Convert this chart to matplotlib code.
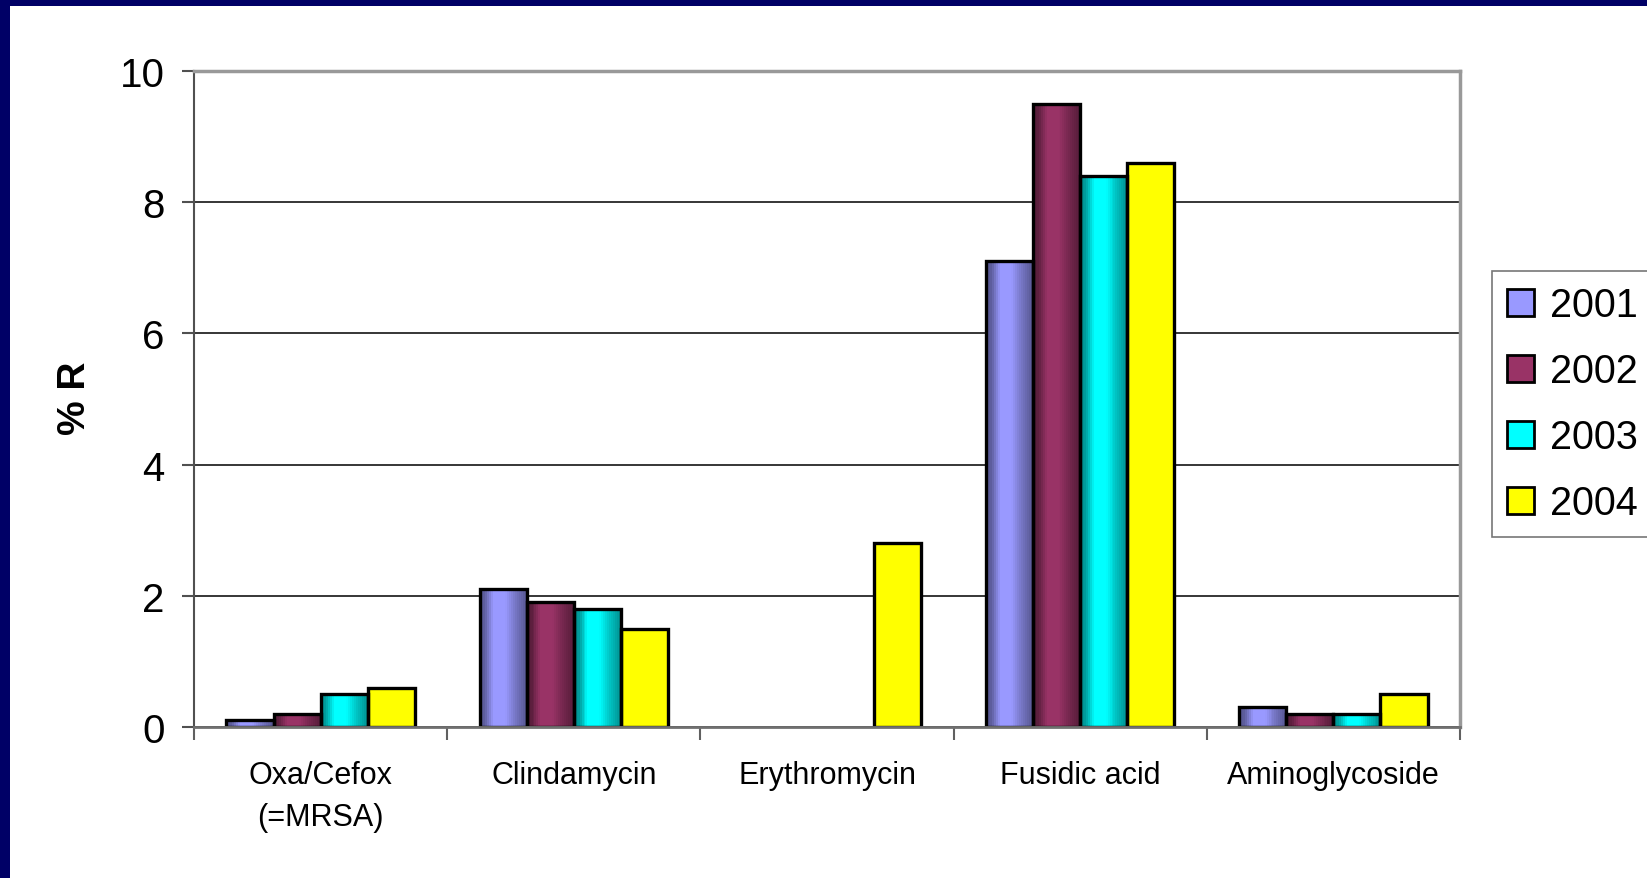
import numpy as np
import matplotlib
matplotlib.use("Agg")
import matplotlib.pyplot as plt
from matplotlib.patches import Rectangle
from matplotlib.colors import to_rgb

categories = ["Oxa/Cefox\n(=MRSA)", "Clindamycin", "Erythromycin", "Fusidic acid", "Aminoglycoside"]
years = ["2001", "2002", "2003", "2004"]
v2001 = [0.1, 2.1, 0.0, 7.1, 0.3]
v2002 = [0.2, 1.9, 0.0, 9.5, 0.2]
v2003 = [0.5, 1.8, 0.0, 8.4, 0.2]
v2004 = [0.6, 1.5, 2.8, 8.6, 0.5]
series = [v2001, v2002, v2003, v2004]
colors = ["#9999FF", "#993366", "#00FFFF", "#FFFF00"]
shaded = [True, True, True, False]
yticks = [0, 2, 4, 6, 8, 10]

plt.rcParams['font.family'] = ['Liberation Sans', 'DejaVu Sans']

W, H = 1647, 879
fig = plt.figure(figsize=(W / 100, H / 100), dpi=100)
fig.patch.set_facecolor("white")

# navy frame (top and left)
fig.add_artist(Rectangle((0, 1 - 7 / H), 1, 7 / H, transform=fig.transFigure,
                         facecolor="#000066", edgecolor="none", zorder=0))
fig.add_artist(Rectangle((0, 0), 10 / W, 1, transform=fig.transFigure,
                         facecolor="#000066", edgecolor="none", zorder=0))

ax = fig.add_axes([194 / W, 1 - 728 / H, (1460 - 194) / W, (728 - 72) / H])

n = len(categories)
nb = len(series)
bw = 0.186
x = np.arange(n)

# gradient profile across a bar (vertical strips)
K = 24
tc = (np.arange(K) + 0.5) / K
prof = np.interp(tc, [0, 0.12, 0.3, 0.55, 0.75, 1.0],
                 [0.55, 0.62, 1.0, 1.0, 0.78, 0.56])

for i, (vals, col) in enumerate(zip(series, colors)):
    xpos = x + (i - (nb - 1) / 2) * bw
    vals_arr = np.array(vals)
    if shaded[i]:
        rgb = np.array(to_rgb(col))
        for k in range(K):
            sx = xpos - bw / 2 + (k + 0.5) * bw / K
            ax.bar(sx, vals_arr, width=bw / K * 1.08, color=tuple(np.clip(prof[k] * rgb, 0, 1)),
                   edgecolor="none", linewidth=0, antialiased=False, zorder=3)
    else:
        ax.bar(xpos, vals_arr, width=bw, color=col, edgecolor="none", zorder=3)
    edges = ax.bar(xpos, vals_arr, width=bw, fill=False, edgecolor="black", linewidth=2.4, zorder=5)
    for ep, v in zip(edges, vals):
        if v == 0:
            ep.set_visible(False)

ax.set_xlim(-0.5, n - 0.5)
ax.set_ylim(0, 10)
ax.set_yticks(yticks)
ax.set_yticklabels([str(v) for v in yticks], fontsize=29)
ax.set_xticks(x)
ax.set_xticklabels(categories, fontsize=22, linespacing=1.5)
ax.tick_params(axis="x", which="major", length=0, pad=24)
ax.set_xticks(np.arange(n + 1) - 0.5, minor=True)
ax.tick_params(axis="x", which="minor", length=9, width=1.5, color="#606060", direction="out")
ax.tick_params(axis="y", length=9, width=1.5, color="#505050", pad=12)

ax.yaxis.grid(True, color="black", linewidth=1.1, zorder=1)
ax.set_axisbelow(True)

ax.spines["left"].set_color("#505050")
ax.spines["left"].set_linewidth(1.5)
ax.spines["bottom"].set_color("#707070")
ax.spines["bottom"].set_linewidth(2.0)
ax.spines["top"].set_color("#999999")
ax.spines["top"].set_linewidth(2.5)
ax.spines["right"].set_color("#999999")
ax.spines["right"].set_linewidth(2.5)
ax.spines["bottom"].set_zorder(6)

fig.text(75 / W, 1 - 398 / H, "% R", rotation=90, fontsize=28, fontweight="bold",
         ha="center", va="center")

handles = [Rectangle((0, 0), 1, 1, facecolor=c, edgecolor="black", linewidth=2) for c in colors]
leg = fig.legend(handles, years, loc="upper left",
                 bbox_to_anchor=(1492 / W, 1 - 272 / H), fontsize=28.5,
                 frameon=True, fancybox=False, shadow=False,
                 handlelength=0.68, handleheight=0.68, handletextpad=0.4,
                 labelspacing=0.71, borderpad=0.38, borderaxespad=0)
leg.get_frame().set_edgecolor("#555555")
leg.get_frame().set_linewidth(1.2)

fig.savefig("out.png", dpi=100)
